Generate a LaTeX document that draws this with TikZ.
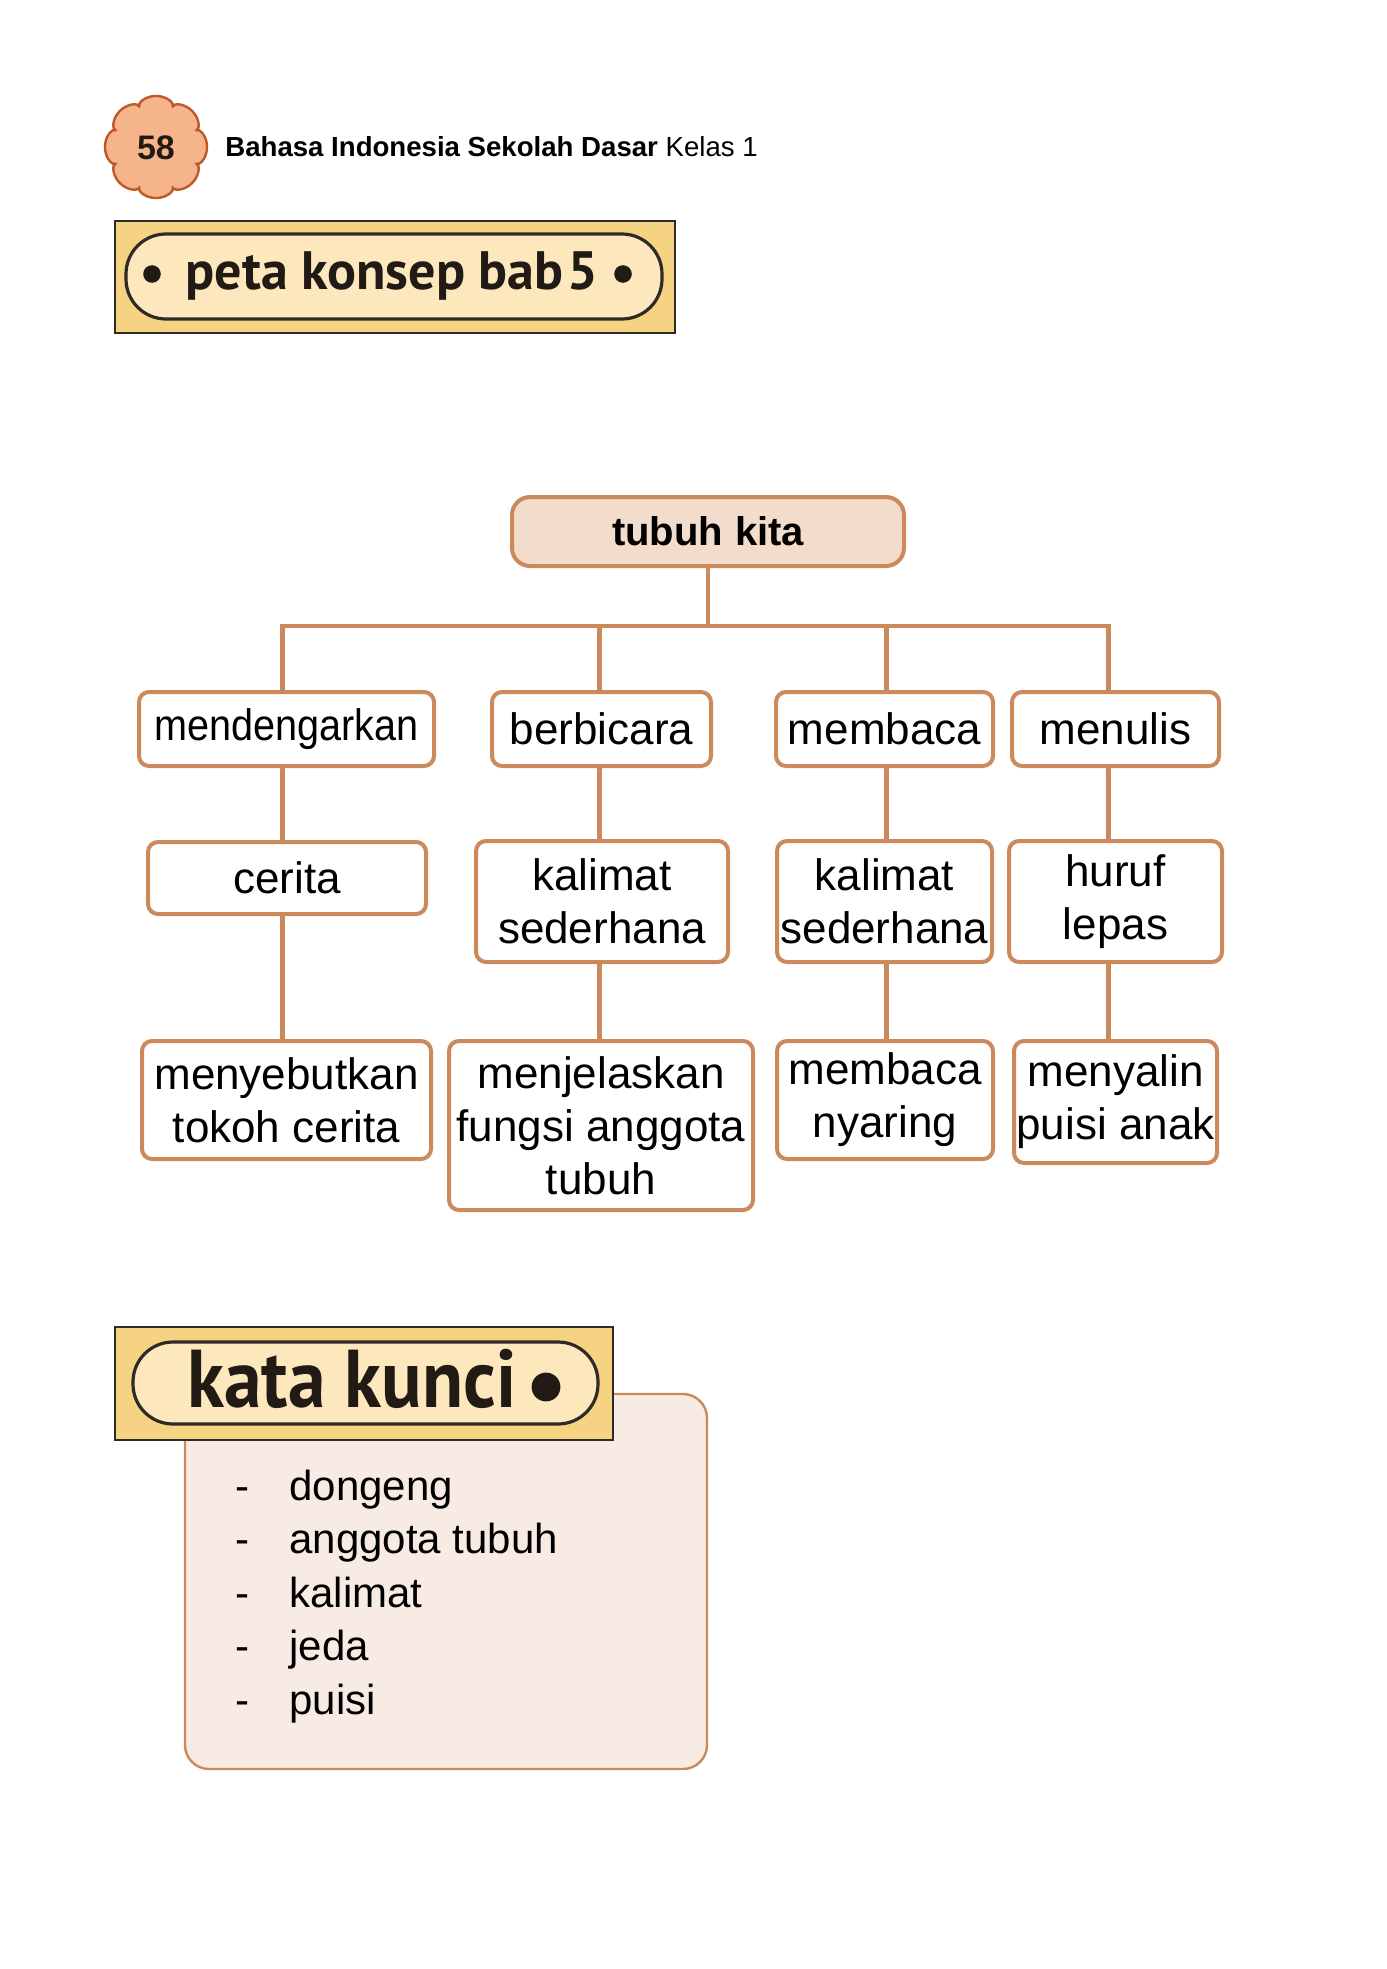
\documentclass[tikz,border=0pt]{standalone}
\usepackage{fontspec}
\setmainfont{Liberation Sans}
\newfontfamily\titlefont{PT Sans}
\definecolor{tanline}{HTML}{CC8A5C}
\definecolor{rootfill}{HTML}{F2DCCB}
\definecolor{goldfill}{HTML}{F6D283}
\definecolor{creamfill}{HTML}{FDE7BD}
\definecolor{darkline}{HTML}{2E2A26}
\definecolor{titleink}{HTML}{221A14}
\definecolor{panelfill}{HTML}{F7EBE4}
\definecolor{flowerfill}{HTML}{F5B48A}
\definecolor{flowerline}{HTML}{C0582A}
\tikzset{
  box/.style={draw=tanline, line width=2pt, rounded corners=5pt, fill=white,
    align=center, inner sep=0pt, font=\fontsize{22}{26.5}\selectfont},
  conn/.style={draw=tanline, line width=2.4pt},
  goldbox/.style={draw=darkline, line width=1pt, fill=goldfill, inner sep=0pt},
  pill/.style={draw=darkline, line width=1.6pt, fill=creamfill, rounded corners=20pt, inner sep=0pt},
  listitem/.style={anchor=base west, inner sep=0pt, font=\fontsize{21}{21}\selectfont},
}
\begin{document}
\begin{tikzpicture}[x=0.5pt,y=-0.5pt]
\useasboundingbox (0,0) rectangle (1386,1969);
\fill[white] (0,0) rectangle (1386,1969);

% header
\filldraw[fill=flowerfill, draw=flowerline, line width=1.2pt]
  plot[domain=0:360, samples=241, smooth]
  ({156+(44+7*sqrt(abs(cos(4*\x))))*cos(\x)}, {147+(44+7*sqrt(abs(cos(4*\x))))*sin(\x)}) -- cycle;
\node[font=\fontsize{17}{17}\selectfont\bfseries, text=titleink] (pagenum) at (156,148) {58};
\node[anchor=west, inner sep=0pt, font=\fontsize{13.8}{14}\selectfont] (header) at (225,147)
  {\textbf{Bahasa Indonesia Sekolah Dasar} Kelas 1};

% title box
\node[goldbox, minimum width=280pt, minimum height=56pt] (titlebox) at (395,277) {};
\node[pill, minimum width=268pt, minimum height=42.5pt] (titlepill) at (394,276.5) {};
\node[inner sep=0pt, text=titleink, font=\titlefont\bfseries\fontsize{27}{27}\selectfont] (titletext) at (392,276)
  {peta konsep bab\kern2pt5};
\fill[titleink] (152,274) circle (4.4pt);
\fill[titleink] (623,274) circle (4.4pt);

% tree
\node[box, fill=rootfill, rounded corners=9pt, minimum width=196pt, minimum height=34.5pt,
  font=\fontsize{20}{20}\selectfont\bfseries] (root) at (708,531.5) {tubuh\kern6pt kita};

\node[box, minimum width=147.5pt, minimum height=37pt] (n1) at (286.5,729) {\scalebox{0.9}[1]{mendengarkan}};
\node[box, minimum width=109.5pt, minimum height=37pt] (n2) at (601.5,729) {berbicara};
\node[box, minimum width=108.5pt, minimum height=37pt] (n3) at (884.5,729) {membaca};
\node[box, minimum width=103.5pt, minimum height=37pt] (n4) at (1115.5,729) {menulis};

\node[box, minimum width=139pt, minimum height=36pt] (m1) at (287,878) {cerita};
\node[box, minimum width=126pt, minimum height=60.5pt] (m2) at (602,901.5) {kalimat\\sederhana};
\node[box, minimum width=107.5pt, minimum height=60.5pt] (m3) at (884.5,901.5) {kalimat\\sederhana};
\node[box, minimum width=106.5pt, minimum height=60.5pt] (m4) at (1115.5,901.5) {huruf\\lepas};

\node[box, minimum width=144.5pt, minimum height=59pt] (b1) at (286.5,1100) {menyebutkan\\tokoh cerita};
\node[box, minimum width=152pt, minimum height=84.5pt] (b2) at (601,1125.5) {menjelaskan\\fungsi anggota\\tubuh};
\node[box, minimum width=108pt, minimum height=59pt] (b3) at (885,1100) {membaca\\nyaring};
\node[box, minimum width=101.5pt, minimum height=61pt] (b4) at (1115.5,1102) {menyalin\\puisi anak};

\coordinate (bar) at (702,626);
\coordinate (c1) at ([xshift=-2pt]n1.north);
\coordinate (c2) at ([xshift=-1.2pt]n2.north);
\coordinate (c3) at ([xshift=1pt]n3.north);
\coordinate (c4) at ([xshift=-3.5pt]n4.north);
\draw[conn] (root.south) -- (root.south |- bar);
\draw[conn] (c1) -- (c1 |- bar) -- (c4 |- bar) -- (c4);
\draw[conn] (c2) -- (c2 |- bar);
\draw[conn] (c3) -- (c3 |- bar);
\draw[conn] (c1 |- n1.south) -- (c1 |- m1.north);
\draw[conn] (c2 |- n2.south) -- (c2 |- m2.north);
\draw[conn] (c3 |- n3.south) -- (c3 |- m3.north);
\draw[conn] (c4 |- n4.south) -- (c4 |- m4.north);
\draw[conn] (c1 |- m1.south) -- (c1 |- b1.north);
\draw[conn] (c2 |- m2.south) -- (c2 |- b2.north);
\draw[conn] (c3 |- m3.south) -- (c3 |- b3.north);
\draw[conn] (c4 |- m4.south) -- (c4 |- b4.north);

% kata kunci
\node[draw=tanline, line width=1.2pt, fill=panelfill, rounded corners=12pt, inner sep=0pt,
  minimum width=261pt, minimum height=187.5pt] (panel) at (446,1581.5) {};
\node[goldbox, minimum width=249pt, minimum height=56.5pt] (kkbox) at (364,1383.5) {};
\node[pill, minimum width=232.5pt, minimum height=41pt] (kkpill) at (365.5,1383) {};
\node[inner sep=0pt, text=titleink, font=\titlefont\bfseries\fontsize{41}{41}\selectfont] (kktext) at (352,1379)
  {\scalebox{0.92}[1]{kata kunci}};
\fill[titleink] (546,1387) circle (7.2pt);

\foreach \w [count=\i] in {dongeng, anggota tubuh, kalimat, jeda, puisi} {
  \node[listitem] (dash\i) at (235,{1500+53.5*(\i-1)}) {-};
  \node[listitem] (item\i) at (289,{1500+53.5*(\i-1)}) {\w};
}
\end{tikzpicture}
\end{document}
